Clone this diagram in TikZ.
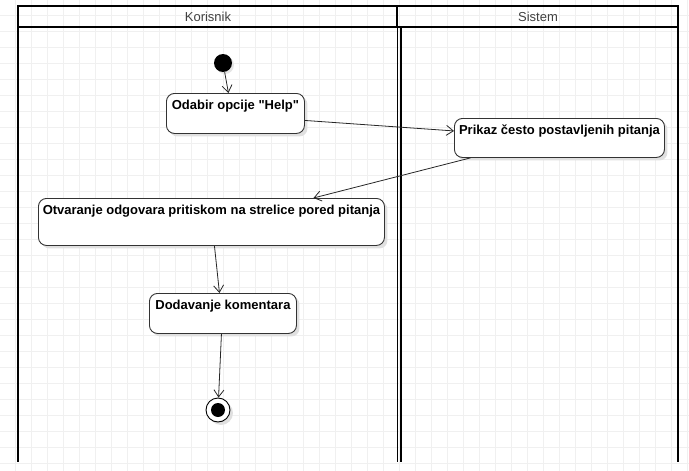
\documentclass[tikz,border=0pt]{standalone}
\usepackage{fontspec}
\setmainfont{Liberation Sans}
\usetikzlibrary{positioning,shapes,arrows.meta,shadows}

\begin{document}
\begin{tikzpicture}[
		x=1pt,y=-1pt,
		mreza/.style={draw=black!6,line width=0.8pt},
		staza/.style={draw=black,line width=1.6pt},
		naslov/.style={text=black!75,font=\fontsize{13}{15}\selectfont},
		akcija/.style={draw=black!80,rounded corners=8pt,line width=0.9pt,fill=white,
			font=\bfseries\fontsize{13}{15}\selectfont,anchor=north west,
			inner xsep=2pt,inner ysep=3.5pt,text height=13pt,
			drop shadow={shadow xshift=3pt,shadow yshift=-3pt,fill=black!12,opacity=1}},
		pocetak/.style={circle,fill=black,minimum size=18pt,inner sep=0pt,
			drop shadow={shadow xshift=2pt,shadow yshift=-2pt,fill=black!10,opacity=1}},
		kraj/.style={circle,draw=black,line width=0.9pt,fill=white,minimum size=24pt,inner sep=0pt,
			path picture={\fill[black] (path picture bounding box.center) circle (7pt);},
			drop shadow={shadow xshift=3pt,shadow yshift=-3pt,fill=black!12,opacity=1}},
		prelaz/.style={color=black!85,line width=0.8pt,-{Straight Barb[length=7pt,width=10pt]}}
		]
		\useasboundingbox (0,0) rectangle (689,471);
		% pozadinska mreza
		\begin{scope}
			\clip (0,0) rectangle (689,471);
			\begin{scope}[shift={(15,15)}]
				\draw[mreza,step=16pt] (-16,-16) grid (690,470);
			\end{scope}
		\end{scope}
		% plivacke staze
		\draw[staza] (18,6) rectangle (678,27);
		\draw[staza] (397,6) -- (397,27);
		\draw[staza] (18,27) -- (18,462);
		\draw[staza] (678,27) -- (678,462);
		\draw[staza] (397.5,27) -- (397.5,462);
		\draw[staza] (401,27) -- (401,462);
		\node[naslov] (korisnik) at (208,16.5) {Korisnik};
		\node[naslov] (sistem) at (538,16.5) {Sistem};
		% aktivnosti
		\node[pocetak] (start) at (223,63) {};
		\node[akcija,minimum width=138pt,text depth=20pt] (odabir) at (166,93) {Odabir opcije \textquotedbl Help\textquotedbl};
		\node[akcija,minimum width=210pt,text depth=19pt] (prikaz) at (454,118) {Prikaz često postavljenih pitanja};
		\node[akcija,minimum width=346pt,text depth=27pt] (otvaranje) at (38,198) {Otvaranje odgovara pritiskom na strelice pored pitanja};
		\node[akcija,minimum width=147pt,text depth=20pt] (dodavanje) at (149,293) {Dodavanje komentara};
		\node[kraj] (kraj) at (218,410) {};
		\path[prelaz]
		(start) edge ([xshift=-7pt]odabir.north)
		([yshift=-7pt]odabir.east) edge ([yshift=7pt]prikaz.west)
		([xshift=-89pt]prikaz.south) edge ([xshift=102pt]otvaranje.north)
		([xshift=3pt]otvaranje.south) edge ([xshift=-3.5pt]dodavanje.north)
		([xshift=-1.5pt]dodavanje.south) edge (kraj);
	\end{tikzpicture}
\end{document}
